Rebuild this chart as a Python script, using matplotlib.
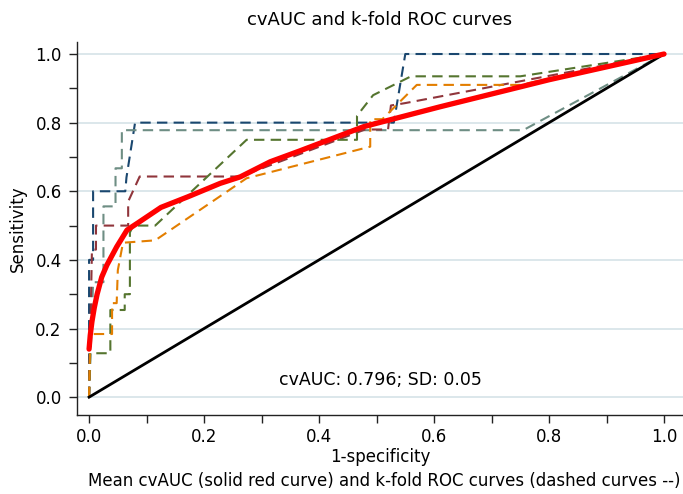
import matplotlib
matplotlib.use("Agg")
import matplotlib.pyplot as plt
import numpy as np
from matplotlib.ticker import MultipleLocator

# k-fold ROC curves (fpr, tpr)
navy_fpr = [0, 0, 0.007, 0.007, 0.063, 0.065, 0.08, 0.53, 0.55, 1.0]
navy_tpr = [0, 0.40, 0.40, 0.60, 0.60, 0.64, 0.80, 0.80, 1.0, 1.0]

teal_fpr = [0, 0.007, 0.025, 0.025, 0.046, 0.046, 0.057, 0.057, 0.755, 1.0]
teal_tpr = [0, 0.335, 0.335, 0.556, 0.556, 0.667, 0.667, 0.778, 0.778, 1.0]

maroon_fpr = [0, 0.005, 0.012, 0.012, 0.068, 0.068, 0.088, 0.263, 0.48, 0.52, 0.525, 0.55, 1.0]
maroon_tpr = [0, 0.43, 0.43, 0.50, 0.50, 0.57, 0.643, 0.643, 0.78, 0.78, 0.85, 0.857, 1.0]

green_fpr = [0, 0.002, 0.037, 0.037, 0.062, 0.062, 0.071, 0.071, 0.077, 0.115, 0.274, 0.466, 0.466, 0.494, 0.56, 0.75, 1.0]
green_tpr = [0, 0.128, 0.128, 0.254, 0.254, 0.30, 0.30, 0.48, 0.50, 0.50, 0.75, 0.75, 0.82, 0.88, 0.935, 0.935, 1.0]

orange_fpr = [0, 0.002, 0.04, 0.04, 0.048, 0.05, 0.059, 0.115, 0.274, 0.489, 0.489, 0.51, 0.57, 0.75, 1.0]
orange_tpr = [0, 0.184, 0.184, 0.274, 0.274, 0.37, 0.45, 0.457, 0.638, 0.73, 0.81, 0.81, 0.91, 0.91, 1.0]

# Mean cvAUC curve
mean_fpr = [0, 0.002, 0.005, 0.009, 0.014, 0.022, 0.031, 0.048, 0.066, 0.085, 0.125, 0.172, 0.228, 0.263, 0.315, 0.367, 0.477, 0.61, 0.80, 1.0]
mean_tpr = [0.14, 0.18, 0.22, 0.26, 0.30, 0.35, 0.385, 0.438, 0.487, 0.508, 0.553, 0.584, 0.623, 0.642, 0.686, 0.718, 0.788, 0.846, 0.925, 1.0]

title = "cvAUC and k-fold ROC curves"
annot = "cvAUC: 0.796; SD: 0.05"
caption = "Mean cvAUC (solid red curve) and k-fold ROC curves (dashed curves --)"

plt.rcParams['font.family'] = ['DejaVu Sans']
fig = plt.figure(figsize=(6.83, 4.94), dpi=100)
ax = fig.add_axes([77/683, 1-415/494, 606/683, (415-42)/494])

ax.set_xlim(-0.021, 1.033)
ax.set_ylim(-0.052, 1.035)

for y in np.arange(0, 1.01, 0.2):
    ax.axhline(y, color='#d5e3e8', lw=1.2, zorder=0)

dash = (0, (5, 3))
ax.plot(navy_fpr, navy_tpr, color='#1a476f', lw=1.5, linestyle=dash, zorder=3)
ax.plot(teal_fpr, teal_tpr, color='#6e8e84', lw=1.5, linestyle=dash, zorder=3)
ax.plot(maroon_fpr, maroon_tpr, color='#90353b', lw=1.5, linestyle=dash, zorder=3)
ax.plot(green_fpr, green_tpr, color='#55752f', lw=1.5, linestyle=dash, zorder=3)
ax.plot(orange_fpr, orange_tpr, color='#e37e00', lw=1.5, linestyle=dash, zorder=3)
ax.plot([0, 1], [0, 1], color='black', lw=2, zorder=4)
ax.plot(mean_fpr, mean_tpr, color='#ff0000', lw=3.8, zorder=5, solid_capstyle='round', solid_joinstyle='round')

ax.text(0.506, 0.05, annot, ha='center', va='center', fontsize=12.5)

for s in ['top', 'right']:
    ax.spines[s].set_visible(False)
for s in ['left', 'bottom']:
    ax.spines[s].set_color('#222222')
    ax.spines[s].set_linewidth(1.0)

ticks = np.arange(0, 1.01, 0.2)
ax.set_xticks(ticks)
ax.set_yticks(ticks)
ax.set_xticklabels([f"{v:.1f}" for v in ticks])
ax.set_yticklabels([f"{v:.1f}" for v in ticks])
ax.xaxis.set_minor_locator(MultipleLocator(0.1))
ax.yaxis.set_minor_locator(MultipleLocator(0.1))
ax.tick_params(which='both', length=6, width=1, color='#222222', labelsize=12)
ax.tick_params(axis='x', pad=3)
ax.tick_params(axis='y', pad=5)

ax.set_title(title, fontsize=13, pad=12)
ax.set_xlabel("1-specificity", fontsize=12, labelpad=2)
ax.set_ylabel("Sensitivity", fontsize=12, labelpad=6)
fig.text(88/683, 1-481/494, caption, ha='left', va='center', fontsize=12)

fig.savefig("out.png", dpi=100)
